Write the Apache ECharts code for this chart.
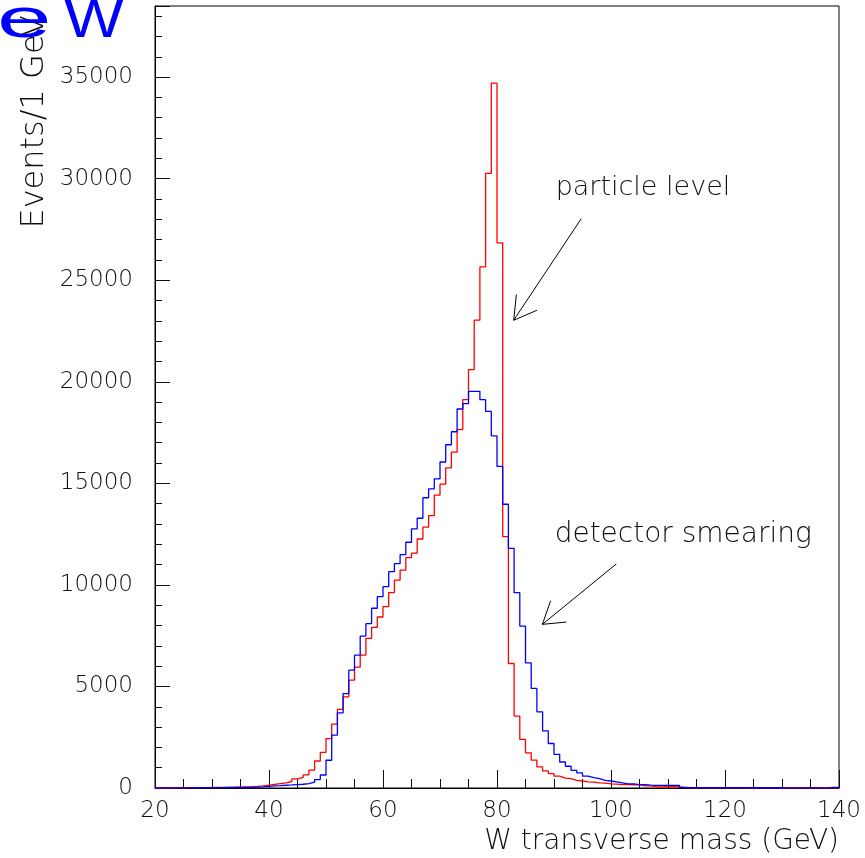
<!DOCTYPE html>
<html><head><meta charset="utf-8">
<script src="https://cdn.jsdelivr.net/npm/echarts@6/dist/echarts.min.js"></script>
<style>html,body{margin:0;padding:0;background:#fff}#c{width:865px;height:858px}</style>
</head><body><div id="c"></div>
<script>
// Histogram: 1 GeV bins, lower edges from 20 to 139 GeV
const binStart = 20;
const binWidth = 1;

// particle level (red), events per bin, bins 20..139
const particleLevel = [
  8, 9, 10, 11, 12, 14, 16, 18, 20, 22,
  25, 28, 32, 38, 45, 55, 65, 80, 100, 140,
  180, 220, 250, 320, 450, 520, 650, 880, 1330, 1750,
  2430, 3140, 3870, 4490, 5310, 5950, 6540, 7370, 7910, 8420,
  8930, 9620, 10230, 10730, 11340, 11560, 12260, 12840, 13410, 14420,
  14960, 15760, 16540, 17640, 19120, 20600, 23030, 25660, 30260, 34700,
  26840, 12380, 6130, 3540, 2390, 1730, 1370, 1040, 840, 710,
  580, 490, 460, 380, 345, 300, 290, 250, 240, 200,
  195, 170, 165, 160, 150, 110, 100, 60, 50, 70,
  70, 60, 15, 12, 10, 10, 8, 8, 6, 6,
  5, 5, 5, 4, 4, 4, 3, 3, 3, 3,
  2, 2, 2, 2, 2, 2, 2, 2, 2, 2
];

// detector smearing (blue), events per bin, bins 20..139
const detectorSmearing = [
  6, 7, 8, 9, 10, 11, 12, 14, 15, 17,
  19, 21, 24, 27, 30, 34, 38, 45, 60, 80,
  100, 115, 135, 150, 170, 185, 220, 290, 414, 640,
  1365, 2600, 3700, 4650, 5800, 6540, 7480, 8090, 8850, 9420,
  9910, 10650, 11050, 11490, 12100, 12760, 13280, 14290, 14730, 15220,
  16050, 16900, 17540, 18660, 18920, 19530, 19530, 19120, 18540, 17340,
  15830, 13970, 11800, 9615, 7970, 6160, 4900, 3750, 2810, 2190,
  1660, 1280, 1070, 870, 740, 580, 510, 460, 380, 345,
  300, 250, 200, 200, 170, 170, 140, 130, 130, 130,
  130, 130, 25, 22, 20, 20, 18, 18, 16, 16,
  15, 15, 14, 14, 13, 13, 12, 12, 12, 12,
  11, 11, 11, 10, 10, 10, 10, 10, 30, 30
];

// axis ranges
const xRange = [20, 140];
const yRange = [0, 38500];

// annotations in data coordinates [GeV, events]
const particleLabel = { text: 'particle level', at: [90.29, 29063] };
const particleArrow = { from: [94.77, 28028], tip: [82.93, 23028], wings: [[83.40, 24295], [87.01, 23521]] };
const detectorLabel = { text: 'detector smearing', at: [90.11, 12017] };
const detectorArrow = { from: [100.93, 11031], tip: [87.96, 8057], wings: [[89.41, 9221], [92.16, 8171]] };

function histLine(values) {
  const pts = values.map((v, i) => [binStart + i * binWidth, v]);
  pts.push([binStart + values.length * binWidth, values[values.length - 1]]);
  return pts;
}

const FONT = 'DejaVu Sans';
const TXT = '#111';

const chart = echarts.init(document.getElementById('c'), null, { renderer: 'canvas' });
chart.setOption({
  animation: false,
  backgroundColor: '#fff',
  grid: { left: 155, right: 26, top: 6, bottom: 70, show: true, borderColor: '#000', borderWidth: 1, backgroundColor: 'transparent' },
  xAxis: {
    type: 'value', min: xRange[0], max: xRange[1], interval: 20,
    axisLine: { show: true, onZero: false, lineStyle: { color: '#000', width: 1 } },
    axisTick: { show: true, inside: true, length: 18, lineStyle: { color: '#111', width: 1 } },
    minorTick: { show: true, splitNumber: 4, length: 9, lineStyle: { color: '#111', width: 1 } },
    splitLine: { show: false },
    axisLabel: { margin: 12, color: TXT, fontFamily: FONT, fontSize: 23, fontWeight: 200 },
    name: 'W transverse mass (GeV)', nameLocation: 'end', nameGap: 0, nameMoveOverlap: false,
    nameTextStyle: { color: TXT, fontFamily: FONT, fontSize: 28, fontWeight: 200, align: 'right', verticalAlign: 'top', padding: [40, 0, 0, 0] }
  },
  yAxis: [
    {
      type: 'value', min: yRange[0], max: yRange[1], interval: 5000, position: 'left',
      axisLine: { show: true, onZero: false, lineStyle: { color: '#000', width: 1 } },
      axisTick: { show: true, inside: true, length: 15, lineStyle: { color: '#111', width: 1 } },
      splitLine: { show: false },
      axisLabel: { margin: 22, color: TXT, fontFamily: FONT, fontSize: 23, fontWeight: 200,
        formatter: v => (v % 5000 === 0 ? String(v) : ''), showMaxLabel: true },
      name: 'Events/1 GeV', nameLocation: 'end', nameRotate: 90, nameGap: -9, nameMoveOverlap: false,
      nameTextStyle: { color: TXT, fontFamily: FONT, fontSize: 32, fontWeight: 200, align: 'right', verticalAlign: 'bottom', padding: [0, 0, 104, 0] }
    },
    {
      type: 'value', min: yRange[0], max: yRange[1], interval: 1000, position: 'left',
      axisLine: { show: false },
      axisTick: { show: true, inside: true, length: 7, lineStyle: { color: '#111', width: 1 } },
      splitLine: { show: false },
      axisLabel: { show: false }
    }
  ],
  series: [
    { name: 'particle level', type: 'line', step: 'end', yAxisIndex: 0, showSymbol: false, symbol: 'none',
      data: histLine(particleLevel), lineStyle: { color: '#ff0000', width: 1.3 }, itemStyle: { color: '#ff0000' }, z: 3 },
    { name: 'detector smearing', type: 'line', step: 'end', yAxisIndex: 0, showSymbol: false, symbol: 'none',
      data: histLine(detectorSmearing), lineStyle: { color: '#0000ff', width: 1.3 }, itemStyle: { color: '#0000ff' }, z: 4 }
  ]
});

function px(p) { return chart.convertToPixel({ gridIndex: 0 }, p); }
function arrowEls(a) {
  const f = px(a.from), t = px(a.tip);
  const els = [{ type: 'line', shape: { x1: f[0], y1: f[1], x2: t[0], y2: t[1] }, style: { stroke: '#000', lineWidth: 1 }, z: 10 }];
  a.wings.forEach(w => {
    const q = px(w);
    els.push({ type: 'line', shape: { x1: t[0], y1: t[1], x2: q[0], y2: q[1] }, style: { stroke: '#000', lineWidth: 1 }, z: 10 });
  });
  return els;
}
function labelEl(l, size) {
  const p = px(l.at);
  return { type: 'text', x: p[0], y: p[1] - 0.346 * size, z: 10,
    style: { text: l.text, fill: TXT, font: '200 ' + size + 'px "DejaVu Sans"', textAlign: 'left', textVerticalAlign: 'middle' } };
}
chart.setOption({
  graphic: [
    labelEl(particleLabel, 27), ...arrowEls(particleArrow),
    labelEl(detectorLabel, 28), ...arrowEls(detectorArrow),
    { type: 'text', x: -3, y: 21.6, scaleX: 1.75, z: 20,
      style: { text: 'e', fill: '#0000ff', font: '56px "Liberation Sans"', textAlign: 'left', textVerticalAlign: 'middle' } },
    { type: 'text', x: 64, y: 21.6, scaleX: 1.13, z: 20,
      style: { text: 'W', fill: '#0000ff', font: '56px "Liberation Sans"', textAlign: 'left', textVerticalAlign: 'middle' } }
  ]
});
</script></body></html>
